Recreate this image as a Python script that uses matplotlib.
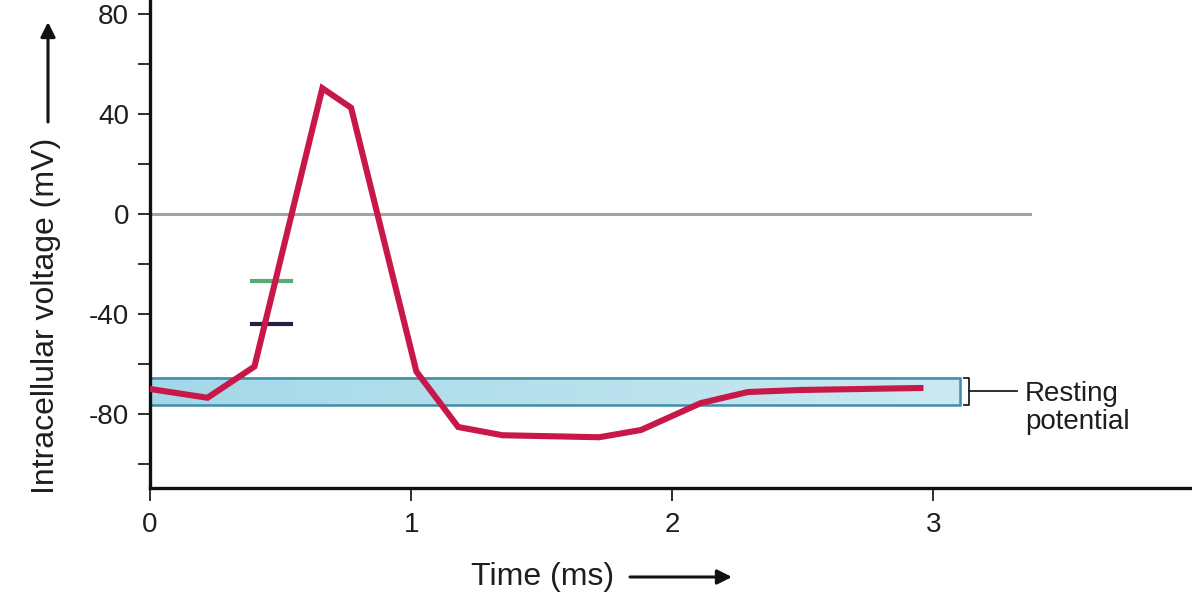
"""Action potential trace with resting potential band."""

import numpy as np
import matplotlib as mpl
import matplotlib.pyplot as plt
from matplotlib.patches import Rectangle
from matplotlib.colors import LinearSegmentedColormap

mpl.rcParams['font.family'] = ['Liberation Sans', 'DejaVu Sans']
mpl.rcParams['axes.unicode_minus'] = False

# trace (time in ms, voltage in mV)
time_ms = [0.0, 0.22, 0.40, 0.66, 0.77, 1.02, 1.18, 1.35, 1.72, 1.88,
           2.11, 2.29, 2.49, 2.95]
voltage_mv = [-70.0, -73.5, -61.0, 50.3, 42.5, -63.0, -85.2, -88.5, -89.3,
              -86.4, -75.6, -71.2, -70.4, -69.6]

rest_low, rest_high = -76.4, -65.5
rest_end = 3.1
zero_end = 3.37
threshold_green = -26.8
threshold_dark = -44.0
threshold_span = (0.39, 0.54)

xticks = [0, 1, 2, 3]
yticks = [-80, -40, 0, 40, 80]
yminor = [-100, -60, -20, 20, 60]

CRIMSON = '#c8184a'
INK = '#1e1e1e'


def main():
    fig = plt.figure(figsize=(11.92, 5.94), dpi=100)
    ax = fig.add_axes([150 / 1192, 1 - 488 / 594, 1 - 150 / 1192, 488 / 594])

    ax.set_xlim(0, 3.99)
    ax.set_ylim(-109.6, 85.6)

    # resting potential band, light gradient left to right
    band_cmap = LinearSegmentedColormap.from_list('band', ['#a3d8e8', '#cbe9f1'])
    ax.imshow(np.linspace(0, 1, 256)[None, :], cmap=band_cmap, aspect='auto',
              extent=(0, rest_end, rest_low, rest_high), zorder=1,
              interpolation='bilinear')
    ax.add_patch(Rectangle((0, rest_low), rest_end, rest_high - rest_low,
                           facecolor='none', edgecolor='#3f8ea6',
                           linewidth=1.8, zorder=1.5))
    ax.set_xlim(0, 3.99)
    ax.set_ylim(-109.6, 85.6)

    ax.plot([0, zero_end], [0, 0], color='#a3a3a3', lw=2.2, zorder=2)

    ax.plot(threshold_span, [threshold_green] * 2, color='#5aab72', lw=3, zorder=3)
    ax.plot(threshold_span, [threshold_dark] * 2, color='#2b1f3f', lw=3, zorder=3)

    ax.plot(time_ms, voltage_mv, color=CRIMSON, lw=4.4,
            solid_joinstyle='miter', zorder=4)

    # bracket and label
    bx0, bx1 = 3.118, 3.136
    ax.plot([bx0, bx1, bx1, bx0], [rest_high, rest_high, rest_low, rest_low],
            color=INK, lw=1.3, clip_on=False)
    ymid = (rest_high + rest_low) / 2
    ax.plot([bx1, 3.32], [ymid, ymid], color=INK, lw=1.3, clip_on=False)
    ax.text(3.35, ymid - 6.5, 'Resting\npotential', fontsize=20,
            ha='left', va='center', linespacing=1.1, color=INK)

    for side in ('top', 'right'):
        ax.spines[side].set_visible(False)
    for side in ('left', 'bottom'):
        ax.spines[side].set_linewidth(2.4)
        ax.spines[side].set_color('#111111')

    ax.set_xticks(xticks)
    ax.set_yticks(yticks)
    ax.set_yticks(yminor, minor=True)
    ax.tick_params(axis='both', which='both', direction='out', width=1.3,
                   length=9, labelsize=20, colors=INK, pad=6)
    ax.tick_params(axis='x', pad=8)

    fig.text(46 / 1192, 1 - 316 / 594, 'Intracellular voltage (mV)',
             rotation=90, ha='center', va='center', fontsize=23, color=INK)
    fig.text(543 / 1192, 1 - 577 / 594, 'Time (ms)', ha='center',
             va='center', fontsize=23, color=INK)

    arrow = dict(arrowstyle='-|>', color='#111111', lw=2.2,
                 mutation_scale=22, shrinkA=0, shrinkB=0)
    ax.annotate('', xy=(48 / 1192, 1 - 22 / 594), xytext=(48 / 1192, 1 - 122 / 594),
                xycoords='figure fraction', textcoords='figure fraction',
                arrowprops=arrow, annotation_clip=False)
    ax.annotate('', xy=(732 / 1192, 1 - 577 / 594), xytext=(630 / 1192, 1 - 577 / 594),
                xycoords='figure fraction', textcoords='figure fraction',
                arrowprops=arrow, annotation_clip=False)

    fig.savefig('out.png', dpi=100)


if __name__ == '__main__':
    main()
